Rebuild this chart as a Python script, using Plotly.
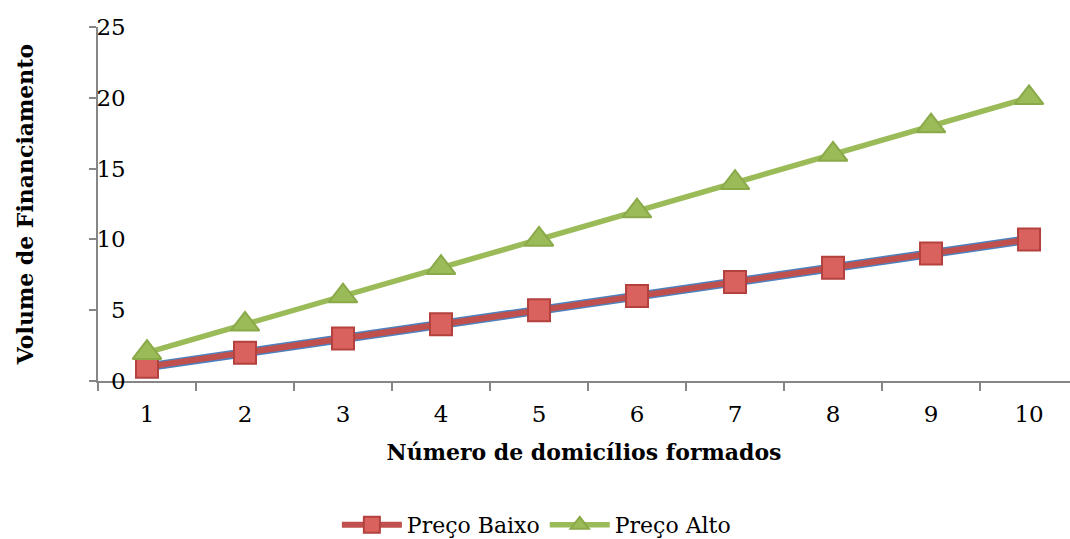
import plotly.graph_objects as go

categories = ["1", "2", "3", "4", "5", "6", "7", "8", "9", "10"]
preco_baixo = [1, 2, 3, 4, 5, 6, 7, 8, 9, 10]
preco_alto = [2, 4, 6, 8, 10, 12, 14, 16, 18, 20]
serie_base = [1, 2, 3, 4, 5, 6, 7, 8, 9, 10]
y_tickvals = [0, 5, 10, 15, 20, 25]
y_ticktext = ["\u20070", "\u20075", "10", "15", "20", "25"]

FONT = "DejaVu Serif"
GRAY = "#868686"

fig = go.Figure()
fig.add_trace(go.Scatter(x=categories, y=serie_base, mode="lines",
                         line=dict(color="#4F81BD", width=9), showlegend=False,
                         hoverinfo="skip"))
fig.add_trace(go.Scatter(x=categories, y=preco_baixo, mode="lines+markers", name="Preço Baixo",
                         line=dict(color="#C0504D", width=6),
                         marker=dict(symbol="square", size=22, color="#DA625E",
                                     line=dict(color="#B3423F", width=2))))
fig.add_trace(go.Scatter(x=categories, y=preco_alto, mode="lines+markers", name="Preço Alto",
                         line=dict(color="#9BBB59", width=5.5),
                         marker=dict(symbol="triangle-up", size=25, color="#9BBB59",
                                     line=dict(color="#8AAA4A", width=2))))

fig.update_layout(
    width=1070, height=539,
    margin=dict(l=98, r=0, t=27, b=158),
    paper_bgcolor="white", plot_bgcolor="white",
    font=dict(family=FONT, size=22, color="black"),
    showlegend=True,
    legend=dict(orientation="h", x=0.451, xanchor="center",
                yref="container", y=0.026, yanchor="middle",
                font=dict(size=22, color="black"), itemwidth=60, tracegroupgap=0),
)
fig.update_xaxes(type="category", range=[-0.5, 9.418], tickson="boundaries", automargin=False,
                 ticks="outside", ticklen=8, tickcolor=GRAY, tickwidth=2,
                 showline=True, linecolor=GRAY, linewidth=2, showgrid=False, zeroline=False,
                 tickfont=dict(size=23, color="black"), ticklabelstandoff=11,
                 title=dict(text="<b>Número de domicílios formados</b>",
                            font=dict(size=22, color="black"), standoff=19))
fig.update_yaxes(range=[0, 25], tickvals=y_tickvals, ticktext=y_ticktext, automargin=False,
                 ticks="outside", ticklen=7, tickcolor=GRAY, tickwidth=2,
                 ticklabelposition="inside", ticklabeloverflow="allow",
                 tickfont=dict(size=23, color="black"),
                 showline=True, linecolor=GRAY, linewidth=2, showgrid=False, zeroline=False,
                 title=dict(text="<b>Volume de Financiamento</b>",
                            font=dict(size=22, color="black"), standoff=57))

fig.write_html("out.html")
